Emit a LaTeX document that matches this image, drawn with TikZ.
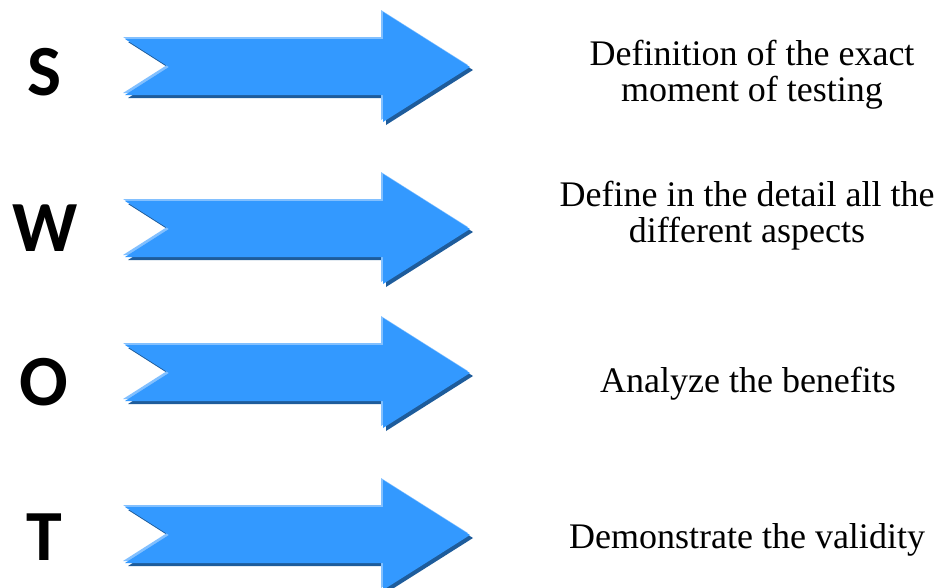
\documentclass[tikz,border=0pt]{standalone}
\usepackage{fontspec}
\setmainfont{Liberation Serif}
\newfontfamily\swotfont{Carlito}
\usepackage{tikz}
\usetikzlibrary{positioning}
\definecolor{arrowblue}{RGB}{51,153,255}
\definecolor{arrowdark}{RGB}{30,92,155}
\definecolor{arrowlight}{RGB}{130,192,255}
\tikzset{swotletter/.style={font=\swotfont\bfseries\fontsize{72}{72}\selectfont, inner sep=0pt},
         swottext/.style={font=\fontsize{36}{36}\selectfont, align=center, inner sep=0pt}}
\newcommand{\arrowshape}{(125,-28) -- (169,0) -- (125,28) -- (383,28) -- (383,55) -- (470,0) -- (383,-55) -- (383,-28) -- cycle}
\newcommand{\bluearrow}[1]{\begin{scope}[shift={(0,#1)}]
\fill[arrowdark, shift={(3,3)}] \arrowshape;
\fill[arrowlight, shift={(-2,-2)}] \arrowshape;
\fill[arrowblue] \arrowshape;
\end{scope}}

\begin{document}
\begin{tikzpicture}[x=1pt, y=-1pt]
\useasboundingbox (0,0) rectangle (946,587);
\bluearrow{67}
\bluearrow{229}
\bluearrow{373}
\bluearrow{535}
\node[swotletter] (s) at (45,72) {S};
\node[swotletter] (w) at (45,228) {W};
\node[swotletter] (o) at (44,382) {O};
\node[swotletter] (t) at (44,537) {T};
\node[swottext] (sdesc) at (752,75) {Definition of the exact\\moment of testing};
\node[swottext] (wdesc) at (747,216) {Define in the detail all the\\different aspects};
\node[swottext] (odesc) at (748,384) {Analyze the benefits};
\node[swottext] (tdesc) at (747,540) {Demonstrate the validity};
\end{tikzpicture}
\end{document}
